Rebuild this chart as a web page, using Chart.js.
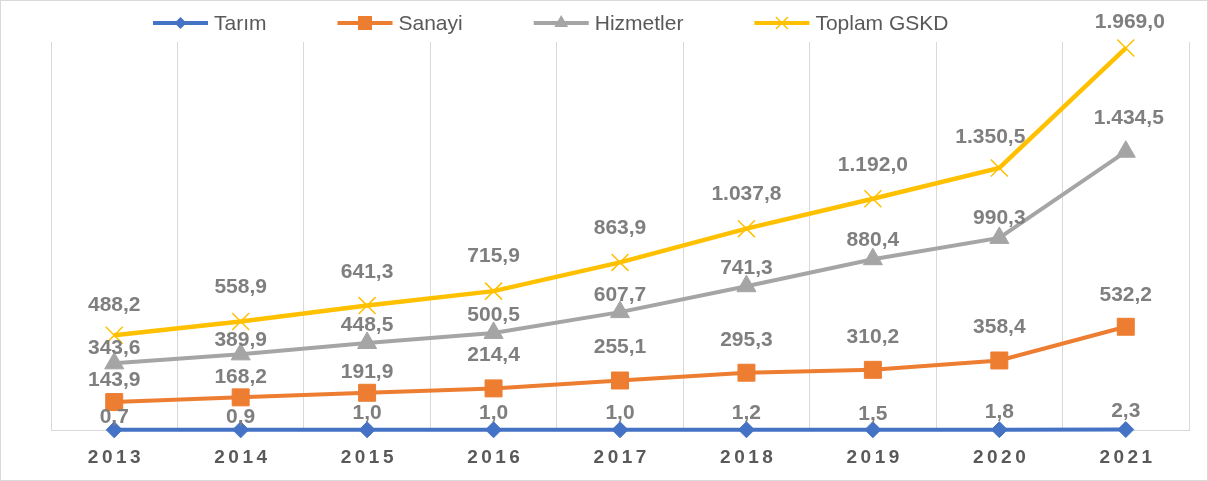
<!DOCTYPE html>
<html><head><meta charset="utf-8">
<script src="https://cdn.jsdelivr.net/npm/chart.js@4/dist/chart.umd.min.js"></script>
<style>html,body{margin:0;padding:0;background:#fff;overflow:hidden}canvas{display:block}</style>
</head><body><canvas id="c" width="1208" height="481"></canvas>
<script>
const years = ['2013','2014','2015','2016','2017','2018','2019','2020','2021'];
const tarim = [0.7, 0.9, 1.0, 1.0, 1.0, 1.2, 1.5, 1.8, 2.3];
const sanayi = [143.9, 168.2, 191.9, 214.4, 255.1, 295.3, 310.2, 358.4, 532.2];
const hizmetler = [343.6, 389.9, 448.5, 500.5, 607.7, 741.3, 880.4, 990.3, 1434.5];
const toplam = [488.2, 558.9, 641.3, 715.9, 863.9, 1037.8, 1192.0, 1350.5, 1969.0];
const seriesNames = ['Tarım', 'Sanayi', 'Hizmetler', 'Toplam GSKD'];

// style: label lift above each point (px)
const labelLift = [
  [13,13,17,17,17,17,16,17,18],
  [22,20,21,33,33,33,33,33,32],
  [15,14,18,18,17,18,19,20,34],
  [30,34,33,35,34,34,34,31,26]
];
const labelShiftX = [
  [0,0,0,0,0,0,0,0,0],
  [0,0,0,0,0,0,0,0,0],
  [0,0,0,0,0,0,0,0,3],
  [0,0,0,0,0,0,0,-9,4]
];

function fmt(v){
  const s = v.toFixed(1);
  let [i,d] = s.split('.');
  i = i.replace(/\B(?=(\d{3})+(?!\d))/g,'.');
  return i + ',' + d;
}

function drawMarker(ctx, style, x, y, color){
  ctx.save();
  ctx.fillStyle = color; ctx.strokeStyle = color;
  ctx.beginPath();
  if (style === 'rectRot'){
    const r = 6;
    ctx.moveTo(x, y-r); ctx.lineTo(x+r, y); ctx.lineTo(x, y+r); ctx.lineTo(x-r, y); ctx.closePath(); ctx.fill();
  } else if (style === 'rect'){
    const s = 7;
    ctx.rect(x-s, y-s, 2*s, 2*s); ctx.fill();
  } else if (style === 'triangle'){
    const r = 8;
    ctx.moveTo(x, y-r); ctx.lineTo(x+r*0.866, y+r*0.5); ctx.lineTo(x-r*0.866, y+r*0.5); ctx.closePath(); ctx.fill();
  } else if (style === 'crossRot'){
    const r = 6;
    ctx.lineWidth = 1.5;
    ctx.moveTo(x-r, y-r); ctx.lineTo(x+r, y+r); ctx.moveTo(x+r, y-r); ctx.lineTo(x-r, y+r); ctx.stroke();
  }
  ctx.restore();
}

const colors = ['#4472C4', '#ED7D31', '#A5A5A5', '#FFC000'];
const pstyles = ['rectRot', 'rect', 'triangle', 'crossRot'];
const pradius = [8, 12, 11, 12];
const values = [tarim, sanayi, hizmetler, toplam];

const decor = {
  id: 'decor',
  afterDatasetsDraw(chart){
    const ctx = chart.ctx;
    ctx.save();
    ctx.font = 'bold 21px "Liberation Sans", Arial, sans-serif';
    ctx.fillStyle = '#7F7F7F';
    ctx.textAlign = 'center';
    ctx.textBaseline = 'middle';
    chart.data.datasets.forEach((ds, di) => {
      const meta = chart.getDatasetMeta(di);
      meta.data.forEach((pt, i) => {
        ctx.fillText(fmt(ds.data[i]), pt.x + labelShiftX[di][i], pt.y - labelLift[di][i]);
      });
    });
    ctx.restore();
  },
  afterDraw(chart){
    const ctx = chart.ctx;
    const xs = chart.scales.x;
    ctx.save();
    ctx.font = 'bold 19px "Liberation Sans", Arial, sans-serif';
    ctx.fillStyle = '#595959';
    ctx.textAlign = 'center';
    ctx.textBaseline = 'middle';
    try { ctx.letterSpacing = '3.5px'; } catch(e) {}
    years.forEach((y, i) => {
      ctx.fillText(y, xs.getPixelForValue(i) + 1.75, 458);
    });
    ctx.restore();

    // legend
    ctx.save();
    ctx.font = '21px "Liberation Sans", Arial, sans-serif';
    ctx.textBaseline = 'middle';
    ctx.textAlign = 'left';
    const lineLen = 55, gapText = 6, gapItem = 71;
    let x = 153;
    const ly = 23;
    seriesNames.forEach((n, i) => {
      const w = ctx.measureText(n).width;
      ctx.strokeStyle = colors[i];
      ctx.lineWidth = 4;
      ctx.beginPath(); ctx.moveTo(x, ly); ctx.lineTo(x+lineLen, ly); ctx.stroke();
      drawMarker(ctx, pstyles[i], x + lineLen/2, ly, colors[i]);
      ctx.fillStyle = '#595959';
      ctx.fillText(n, x + lineLen + gapText, ly + 1);
      x += lineLen + gapText + w + gapItem;
    });
    ctx.restore();

    ctx.save();
    ctx.strokeStyle = '#D9D9D9';
    ctx.lineWidth = 1;
    ctx.strokeRect(0.5, 0.5, chart.width - 1, chart.height - 1);
    ctx.restore();
  }
};

new Chart(document.getElementById('c'), {
  type: 'line',
  data: {
    labels: years,
    datasets: values.map((v, i) => ({
      label: seriesNames[i],
      data: v,
      borderColor: colors[i],
      backgroundColor: colors[i],
      borderWidth: i === 3 ? 4.5 : 4,
      pointStyle: pstyles[i],
      pointRadius: pradius[i],
      pointHoverRadius: pradius[i],
      pointBackgroundColor: colors[i],
      pointBorderColor: colors[i],
      pointBorderWidth: i === 3 ? 1.5 : 1,
      tension: 0,
      fill: false,
      clip: false,
      order: 3 - i
    }))
  },
  options: {
    responsive: false,
    devicePixelRatio: 1,
    animation: false,
    events: [],
    layout: { padding: { left: 51, right: 19, top: 42, bottom: 51 } },
    plugins: { legend: { display: false }, tooltip: { enabled: false } },
    scales: {
      x: {
        offset: true,
        grid: { offset: true, color: '#D9D9D9', lineWidth: 1, drawTicks: false },
        border: { display: true, color: '#D9D9D9' },
        ticks: { display: false }
      },
      y: { display: false, min: 0, max: 2000 }
    }
  },
  plugins: [decor]
});
</script>
</body></html>
